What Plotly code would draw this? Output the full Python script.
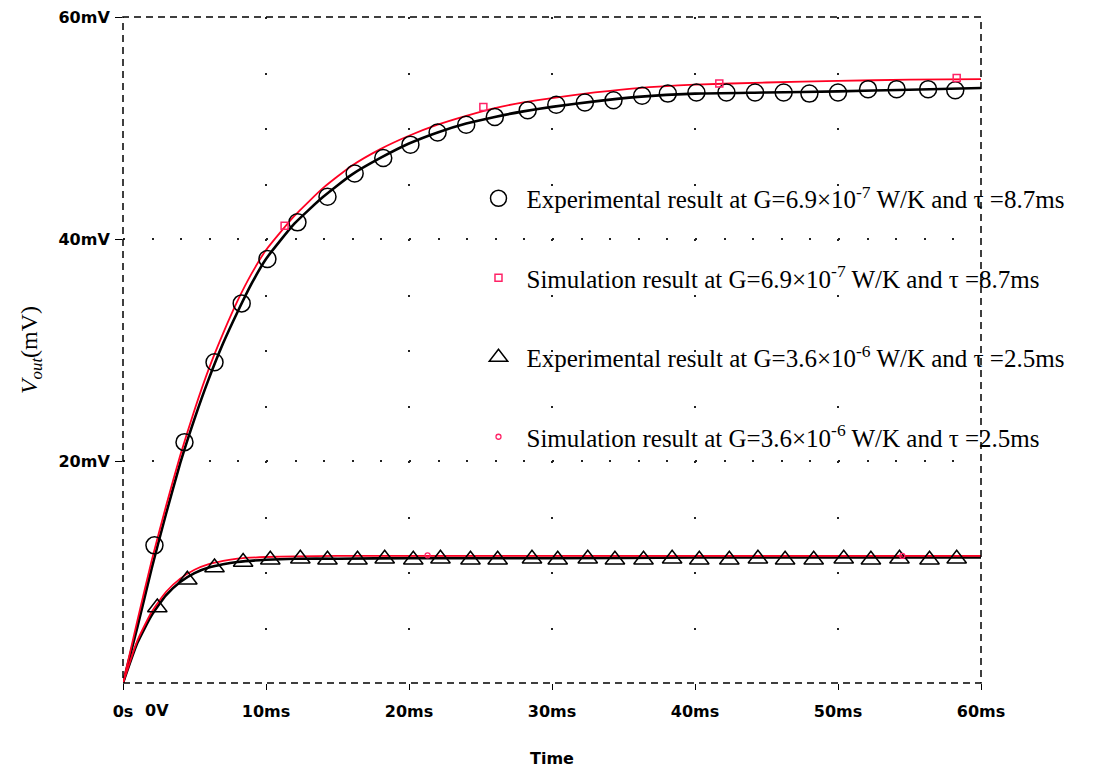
import plotly.graph_objects as go

# ---------------- data (time in ms, voltage in mV) ----------------
t_line1 = [0, 1, 2, 3, 4, 5, 6, 7, 8, 9, 10, 12, 14, 16, 18, 20, 22, 24, 26, 28,
           30, 33, 36, 40, 45, 50, 55, 60]
sim1_line = [0, 5.6, 11.0, 15.9, 20.5, 24.6, 28.3, 31.5, 34.4, 36.9, 39.0, 42.1, 44.6,
             46.6, 48.1, 49.3, 50.3, 51.1, 51.8, 52.3, 52.7, 53.2, 53.6, 53.9, 54.1,
             54.25, 54.35, 54.4]
exp1_line = [0, 5.0, 10.3, 15.2, 19.8, 23.8, 27.4, 30.6, 33.4, 36.0, 38.2, 41.4, 43.8,
             45.8, 47.3, 48.6, 49.6, 50.4, 51.0, 51.5, 51.9, 52.4, 52.8, 53.1, 53.2,
             53.3, 53.45, 53.6]

t_line2 = [0, 1, 2, 3, 4, 5, 6, 7, 8, 10, 12, 15, 20, 30, 40, 50, 60]
sim2_line = [0, 3.8, 6.4, 8.2, 9.4, 10.2, 10.7, 11.0, 11.2, 11.35, 11.4, 11.45, 11.45,
             11.45, 11.45, 11.45, 11.45]
exp2_line = [0, 3.6, 6.1, 7.9, 9.1, 9.9, 10.4, 10.7, 10.9, 11.1, 11.2, 11.2, 11.25,
             11.25, 11.3, 11.3, 11.3]

t_exp1 = [2.2, 4.3, 6.4, 8.3, 10.1, 12.2, 14.3, 16.2, 18.2, 20.1, 22.0, 24.0, 26.0,
          28.3, 30.3, 32.3, 34.3, 36.3, 38.1, 40.1, 42.2, 44.2, 46.2, 48.0, 50.0,
          52.1, 54.1, 56.3, 58.2, 60.1]
v_exp1 = [12.4, 21.7, 28.9, 34.2, 38.2, 41.5, 43.8, 45.9, 47.3, 48.5, 49.6, 50.3, 51.0,
          51.6, 52.1, 52.3, 52.5, 52.9, 53.1, 53.2, 53.2, 53.2, 53.2, 53.1, 53.2,
          53.5, 53.5, 53.5, 53.4, 53.5]

t_sim1 = [11.3, 25.2, 41.7, 58.3]
v_sim1 = [41.2, 51.9, 54.0, 54.5]

t_exp2 = [2.4, 4.5, 6.4, 8.4, 10.3, 12.4, 14.3, 16.4, 18.3, 20.3, 22.2, 24.3, 26.2,
          28.6, 30.4, 32.5, 34.4, 36.4, 38.4, 40.3, 42.4, 44.4, 46.3, 48.3, 50.4,
          52.3, 54.3, 56.4, 58.3, 60.4]
v_exp2 = [6.8, 9.3, 10.4, 10.9, 11.1, 11.2, 11.1, 11.1, 11.2, 11.1, 11.2, 11.1, 11.1,
          11.2, 11.1, 11.2, 11.1, 11.1, 11.2, 11.1, 11.1, 11.2, 11.1, 11.1, 11.2,
          11.1, 11.2, 11.1, 11.2, 11.3]

t_sim2 = [21.3, 54.5]
v_sim2 = [11.5, 11.45]

x_tickvals = [0, 10, 20, 30, 40, 50, 60]
x_ticktext = ["0s", "10ms", "20ms", "30ms", "40ms", "50ms", "60ms"]
y_tickvals = [20, 40, 60]
y_ticktext = ["20mV", "40mV", "60mV"]

legend_names = [
    "Experimental result at G=6.9×10<sup>-7</sup> W/K and τ =8.7ms",
    "Simulation result at G=6.9×10<sup>-7</sup> W/K and τ =8.7ms",
    "Experimental result at G=3.6×10<sup>-6</sup> W/K and τ =2.5ms",
    "Simulation result at G=3.6×10<sup>-6</sup> W/K and τ =2.5ms",
]

RED = "#ff0022"
PINK = "#ff2266"

fig = go.Figure()

# lines (black experimental first, red simulation on top)
fig.add_trace(go.Scatter(x=t_line1, y=exp1_line, mode="lines", showlegend=False,
                         line=dict(color="black", width=2.6, shape="spline", smoothing=0.5)))
fig.add_trace(go.Scatter(x=t_line2, y=exp2_line, mode="lines", showlegend=False,
                         line=dict(color="black", width=2.6, shape="spline", smoothing=0.5)))
fig.add_trace(go.Scatter(x=t_line1, y=sim1_line, mode="lines", showlegend=False,
                         line=dict(color=RED, width=1.8, shape="spline", smoothing=0.5)))
fig.add_trace(go.Scatter(x=t_line2, y=sim2_line, mode="lines", showlegend=False,
                         line=dict(color=RED, width=1.8, shape="spline", smoothing=0.5)))

# markers (legend entries)
fig.add_trace(go.Scatter(x=t_exp1, y=v_exp1, mode="markers", name=legend_names[0],
                         legendgroup="a", cliponaxis=False,
                         marker=dict(symbol="circle-open", size=17, color="black",
                                     line=dict(width=1.5, color="black"))))
fig.add_trace(go.Scatter(x=t_sim1, y=v_sim1, mode="markers", name=legend_names[1],
                         legendgroup="b", cliponaxis=False,
                         marker=dict(symbol="square-open", size=7, color=PINK,
                                     line=dict(width=1.5, color=PINK))))
fig.add_trace(go.Scatter(x=t_exp2, y=v_exp2, mode="markers", name=legend_names[2],
                         legendgroup="c", cliponaxis=False,
                         marker=dict(symbol="triangle-up-open", size=17, color="black",
                                     line=dict(width=1.5, color="black"))))
fig.add_trace(go.Scatter(x=t_sim2, y=v_sim2, mode="markers", name=legend_names[3],
                         legendgroup="d", cliponaxis=False,
                         marker=dict(symbol="circle-open", size=5, color=PINK,
                                     line=dict(width=1.3, color=PINK))))

tickfont = dict(family="DejaVu Sans", size=16, color="black", weight="bold")

fig.update_layout(
    width=1095, height=771,
    margin=dict(l=123, r=114, t=17, b=88),
    paper_bgcolor="white", plot_bgcolor="white",
    showlegend=True,
    legend=dict(x=0.405, y=0.762, xanchor="left", yanchor="top",
                bgcolor="rgba(0,0,0,0)", tracegroupgap=44, itemwidth=46,
                font=dict(family="Liberation Serif", size=25, color="black")),
    xaxis=dict(range=[0, 60], tickvals=x_tickvals, ticktext=x_ticktext, automargin=False,
               ticks="outside", ticklen=6, tickcolor="black", tickwidth=1.2,
               tickfont=tickfont, showline=False, zeroline=False, ticklabelstandoff=8,
               showgrid=True, gridcolor="#222", gridwidth=2, griddash="2px,53.5px",
               title=dict(text="Time", font=dict(family="DejaVu Sans", size=16,
                                                 color="black", weight="bold"),
                          standoff=32)),
    yaxis=dict(range=[0, 60], tickvals=y_tickvals, ticktext=y_ticktext, automargin=False,
               ticks="outside", ticklen=7, tickcolor="black", tickwidth=1.2,
               tickfont=tickfont, showline=False, zeroline=False, ticklabelstandoff=2,
               showgrid=True, gridcolor="#222", gridwidth=2, griddash="2px,26.6px",
               title=dict(text="<i>V</i><sub><i>out</i></sub>(mV)",
                          font=dict(family="Liberation Serif", size=24, color="black"),
                          standoff=14)),
    shapes=[dict(type="rect", xref="paper", yref="paper", x0=0, y0=0, x1=1, y1=1,
                 line=dict(color="black", width=1.5, dash="7px,5px"), layer="above")],
    annotations=[dict(text="0V", xref="paper", yref="paper", x=0.04, y=0,
                      xanchor="center", yanchor="top", yshift=-16, showarrow=False,
                      font=tickfont)],
)

fig.write_html("out.html")
